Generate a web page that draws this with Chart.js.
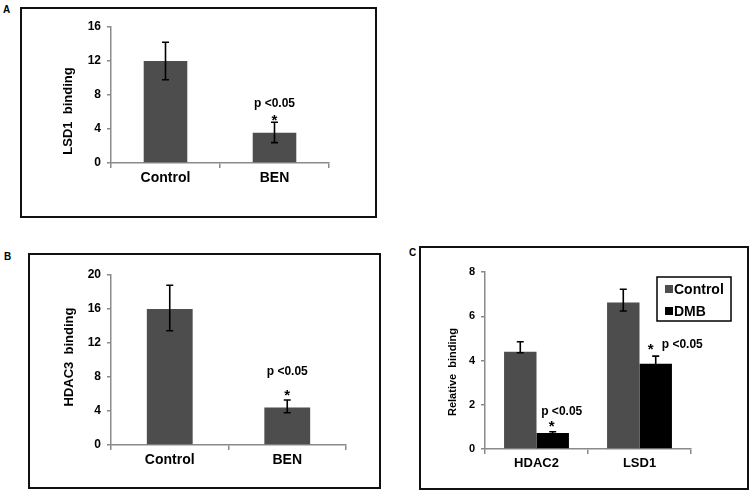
<!DOCTYPE html>
<html>
<head>
<meta charset="utf-8">
<script src="https://cdn.jsdelivr.net/npm/chart.js@4.4.1/dist/chart.umd.min.js"></script>
<style>
  html, body { margin: 0; padding: 0; background: #fff; }
  #page { position: relative; width: 750px; height: 493px; overflow: hidden; font-family: "Liberation Sans", Arial, sans-serif; }
  canvas { position: absolute; left: 0; top: 0; }
  .box { position: absolute; border: 2px solid #111; box-sizing: border-box; }
  .tag { position: absolute; font-weight: bold; font-size: 10px; line-height: 10px; }
</style>
</head>
<body>
<div id="page">
  <div class="box" style="left:20px;top:7px;width:357px;height:211px"></div>
  <div class="box" style="left:28px;top:253px;width:353px;height:236px"></div>
  <div class="box" style="left:419px;top:246px;width:330px;height:244px"></div>
  <div class="tag" style="left:3px;top:5px">A</div>
  <div class="tag" style="left:4px;top:252px">B</div>
  <div class="tag" style="left:409px;top:248px">C</div>
  <canvas id="chartA" width="750" height="493"></canvas>
  <canvas id="chartB" width="750" height="493"></canvas>
  <canvas id="chartC" width="750" height="493"></canvas>
</div>
<script>
// ─── Data ─────────────────────────────────────────────────────────────────

// Panel A: LSD1 binding
const catsA  = ["Control", "BEN"];
const valsA  = [12, 3.55];
const lowA   = [9.8, 2.4];
const highA  = [14.2, 4.8];
const notesA = ["", "p <0.05"];
const ticksA = [0, 4, 8, 12, 16];

// Panel B: HDAC3 binding
const catsB  = ["Control", "BEN"];
const valsB  = [16, 4.4];
const lowB   = [13.45, 3.8];
const highB  = [18.8, 5.3];
const notesB = ["", "p <0.05"];
const ticksB = [0, 4, 8, 12, 16, 20];

// Panel C: relative binding, Control vs DMB
const catsC     = ["HDAC2", "LSD1"];
const seriesC   = ["Control", "DMB"];
const ctrlC     = [4.4, 6.62];
const ctrlLowC  = [4.35, 6.24];
const ctrlHighC = [4.85, 7.22];
const dmbC      = [0.72, 3.85];
const dmbLowC   = [0.68, 3.5];
const dmbHighC  = [0.78, 4.2];
const notesC    = ["p <0.05", "p <0.05"];
const ticksC    = [0, 2, 4, 6, 8];

// ─── Helpers ──────────────────────────────────────────────────────────────

const FONT = '"Liberation Sans", Arial, sans-serif';
const GRAY = "#4d4d4d";
const AXIS = "#8a8a8a";

function drawStar(ctx, x, cy) {
  ctx.font = "bold 15px " + FONT;
  ctx.textAlign = "center";
  ctx.textBaseline = "alphabetic";
  ctx.fillText("*", x, cy + 8.5);
}

function barPanel(id, p) {
  const extras = {
    id: "extras",
    afterDatasetsDraw(chart) {
      const ctx = chart.ctx;
      const y = chart.scales.y;
      ctx.save();
      ctx.fillStyle = "#000";
      chart.data.datasets.forEach((ds, di) => {
        chart.getDatasetMeta(di).data.forEach((bar, i) => {
          const x = bar.x;
          const yHi = y.getPixelForValue(ds.errHigh[i]);
          const yLo = y.getPixelForValue(ds.errLow[i]);
          ctx.strokeStyle = "#000";
          ctx.lineWidth = 1.6;
          ctx.beginPath();
          ctx.moveTo(x, yLo); ctx.lineTo(x, yHi);
          ctx.moveTo(x - 3.5, yHi); ctx.lineTo(x + 3.5, yHi);
          ctx.moveTo(x - 3.5, yLo); ctx.lineTo(x + 3.5, yLo);
          ctx.stroke();

          const note = ds.notes ? ds.notes[i] : "";
          if (!note) return;
          const pl = p.place[i];
          drawStar(ctx, x + pl.star[0], yHi + pl.star[1]);
          ctx.font = "bold 12px " + FONT;
          ctx.textAlign = pl.align;
          ctx.textBaseline = "middle";
          ctx.fillText(note, x + pl.text[0], yHi + pl.text[1]);
        });
      });

      // rotated y title
      ctx.save();
      ctx.translate(p.titleX, p.titleY);
      ctx.rotate(-Math.PI / 2);
      ctx.font = p.titleFont;
      ctx.textAlign = "center";
      ctx.textBaseline = "middle";
      ctx.fillText(p.title, 0, 0);
      ctx.restore();

      // legend box (panel C only)
      if (p.legend) {
        const L = p.legend;
        ctx.strokeStyle = "#000";
        ctx.lineWidth = 1.5;
        ctx.strokeRect(L.x, L.y, L.w, L.h);
        ctx.font = "bold 14px " + FONT;
        ctx.textAlign = "left";
        ctx.textBaseline = "middle";
        chart.data.datasets.forEach((ds, di) => {
          const ry = L.y + L.row0 + di * L.rowGap;
          ctx.fillStyle = ds.backgroundColor;
          ctx.fillRect(L.x + 8, ry - 4, 8, 8);
          ctx.fillStyle = "#000";
          ctx.fillText(ds.label, L.x + 17, ry + 1);
        });
      }
      ctx.restore();
    }
  };

  new Chart(document.getElementById(id), {
    type: "bar",
    data: { labels: p.labels, datasets: p.datasets },
    options: {
      responsive: false,
      animation: false,
      events: [],
      layout: { padding: { left: 0, top: p.top, right: 750 - p.right, bottom: 0 } },
      plugins: { legend: { display: false }, tooltip: { enabled: false } },
      scales: {
        x: {
          grid: { display: true, drawOnChartArea: false, drawTicks: true, tickLength: 5, color: AXIS, lineWidth: 1.5, offset: true },
          border: { color: AXIS, width: 1.5 },
          ticks: { color: "#000", padding: 2, font: { family: FONT, size: p.xFont, weight: "bold" } },
          afterFit: s => { s.height = 493 - p.bottom; },
        },
        y: {
          min: p.ticks[0],
          max: p.ticks[p.ticks.length - 1],
          afterBuildTicks: s => { s.ticks = p.ticks.map(v => ({ value: v })); },
          grid: { display: true, drawOnChartArea: false, drawTicks: true, tickLength: 4, color: AXIS, lineWidth: 1.5 },
          border: { color: AXIS, width: 1.5 },
          ticks: { color: "#000", padding: 6, font: { family: FONT, size: p.yFont, weight: "bold" } },
          afterFit: s => { s.width = p.left; },
        },
      },
    },
    plugins: [extras],
  });
}

// ─── Panels ───────────────────────────────────────────────────────────────

barPanel("chartA", {
  labels: catsA,
  datasets: [{
    data: valsA, errLow: lowA, errHigh: highA, notes: notesA,
    backgroundColor: GRAY, categoryPercentage: 1, barPercentage: 0.4,
  }],
  ticks: ticksA,
  left: 111, right: 329, top: 27, bottom: 163,
  xFont: 14, yFont: 12,
  title: "LSD1  binding", titleX: 68, titleY: 111, titleFont: "bold 13px " + FONT,
  place: { 1: { star: [0, -6], text: [0, -19], align: "center" } },
});

barPanel("chartB", {
  labels: catsB,
  datasets: [{
    data: valsB, errLow: lowB, errHigh: highB, notes: notesB,
    backgroundColor: GRAY, categoryPercentage: 1, barPercentage: 0.39,
  }],
  ticks: ticksB,
  left: 111, right: 346, top: 275, bottom: 445,
  xFont: 14, yFont: 12,
  title: "HDAC3  binding", titleX: 69, titleY: 357, titleFont: "bold 13px " + FONT,
  place: { 1: { star: [0, -8], text: [0, -28], align: "center" } },
});

barPanel("chartC", {
  labels: catsC,
  datasets: [
    { label: seriesC[0], data: ctrlC, errLow: ctrlLowC, errHigh: ctrlHighC,
      backgroundColor: GRAY, categoryPercentage: 0.63, barPercentage: 1 },
    { label: seriesC[1], data: dmbC, errLow: dmbLowC, errHigh: dmbHighC, notes: notesC,
      backgroundColor: "#000", categoryPercentage: 0.63, barPercentage: 1 },
  ],
  ticks: ticksC,
  left: 485, right: 691, top: 272, bottom: 449,
  xFont: 13, yFont: 11,
  title: "Relative  binding", titleX: 453, titleY: 372, titleFont: "bold 11px " + FONT,
  place: {
    0: { star: [-1, -9], text: [9, -20], align: "center" },
    1: { star: [-5, -11], text: [6, -11], align: "left" },
  },
  legend: { x: 657, y: 277, w: 74, h: 44, row0: 12, rowGap: 22 },
});
</script>
</body>
</html>
